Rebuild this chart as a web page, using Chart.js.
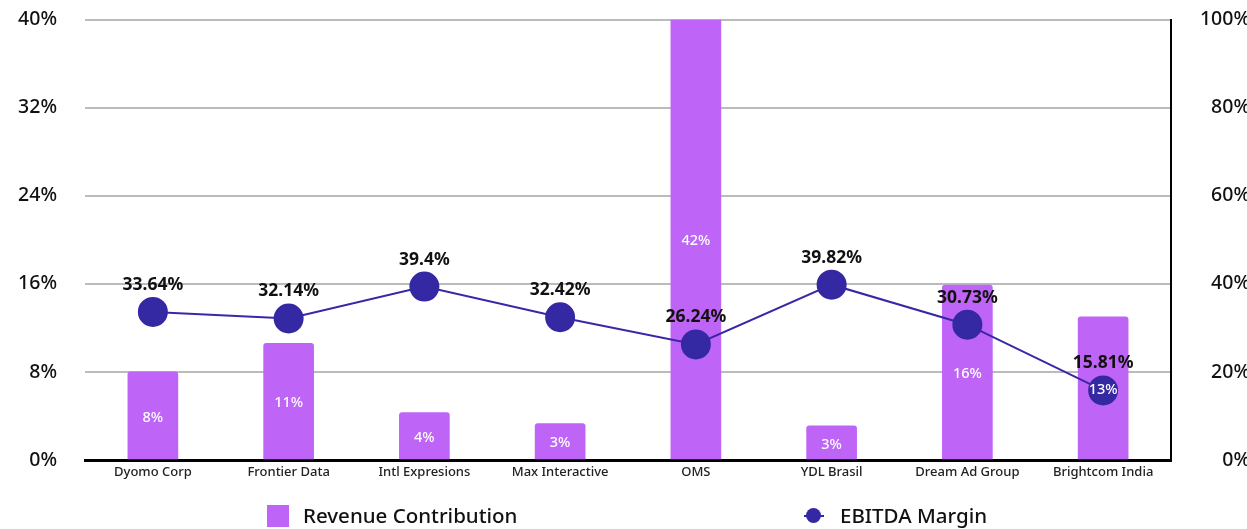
<!DOCTYPE html>
<html>
<head>
<meta charset="utf-8">
<script src="https://cdn.jsdelivr.net/npm/chart.js@4.4.1/dist/chart.umd.min.js"></script>
<style>
  html, body { margin: 0; padding: 0; background: #fff; overflow: hidden; }
  #wrap { position: relative; width: 1247px; height: 529px; overflow: hidden; }
  canvas { position: absolute; left: 0; top: -20px; }
  .leg { position: absolute; font-family: "Noto Sans", sans-serif; font-size: 20.5px; font-weight: 500; color: #111; }
  .sq { position: absolute; left: 267px; top: 505px; width: 22px; height: 22px; background: #be64f6; }
  .ln { position: absolute; left: 804px; top: 515px; width: 20px; height: 2px; background: #3a27a6; }
  .dot { position: absolute; left: 806px; top: 508px; width: 15px; height: 15px; border-radius: 50%; background: #3528a3; }
</style>
</head>
<body>
<div id="wrap">
  <canvas id="chart" width="1250" height="549"></canvas>
  <div class="sq"></div>
  <div class="leg" style="left:303px; top:501px;">Revenue Contribution</div>
  <div class="ln"></div>
  <div class="dot"></div>
  <div class="leg" style="left:840px; top:501px;">EBITDA Margin</div>
</div>
<script>
const categories = ['Dyomo Corp', 'Frontier Data', 'Intl Expresions', 'Max Interactive', 'OMS', 'YDL Brasil', 'Dream Ad Group', 'Brightcom India'];
const revenueContribution = [8, 10.6, 4.3, 3.3, 42, 3.1, 15.9, 13];
const revenueLabels = ['8%', '11%', '4%', '3%', '42%', '3%', '16%', '13%'];
const ebitdaMargin = [33.64, 32.14, 39.4, 32.42, 26.24, 39.82, 30.73, 15.81];
const leftTicks = [0, 8, 16, 24, 32, 40];
const rightTicks = [0, 20, 40, 60, 80, 100];

const font = '"Noto Sans", sans-serif';

const labelPlugin = {
    id: 'valueLabels',
    afterDatasetsDraw(chart) {
        const ctx = chart.ctx;
        const area = chart.chartArea;
        ctx.save();
        // line labels above points
        const lineMeta = chart.getDatasetMeta(1);
        ctx.fillStyle = '#111';
        ctx.font = '700 17.5px ' + font;
        ctx.textAlign = 'center';
        ctx.textBaseline = 'middle';
        lineMeta.data.forEach((pt, i) => {
            ctx.fillText(ebitdaMargin[i] + '%', pt.x, pt.y - 27);
        });
        // bar labels in the middle of the visible bar
        const barMeta = chart.getDatasetMeta(0);
        ctx.fillStyle = '#fff';
        ctx.font = '500 14.5px ' + font;
        barMeta.data.forEach((bar, i) => {
            const top = Math.max(bar.y, area.top);
            ctx.fillText(revenueLabels[i], bar.x, (top + bar.base) / 2 + 2);
        });
        ctx.restore();
    }
};

new Chart(document.getElementById('chart'), {
    data: {
        labels: categories,
        datasets: [{
            type: 'bar',
            label: 'Revenue Contribution',
            data: revenueContribution,
            yAxisID: 'y',
            backgroundColor: '#be64f6',
            barThickness: 50,
            borderRadius: 3,
            borderSkipped: 'bottom',
            order: 2
        }, {
            type: 'line',
            label: 'EBITDA Margin',
            data: ebitdaMargin,
            yAxisID: 'y1',
            borderColor: '#3a27a6',
            backgroundColor: '#3528a3',
            borderWidth: 2,
            pointRadius: 14,
            pointHoverRadius: 14,
            pointBackgroundColor: '#3528a3',
            pointBorderColor: '#3528a3',
            order: 1
        }]
    },
    options: {
        responsive: false,
        devicePixelRatio: 1,
        animation: false,
        layout: { padding: { top: 0, bottom: 39, left: 0, right: 0 } },
        plugins: {
            legend: { display: false },
            tooltip: { enabled: false }
        },
        scales: {
            x: {
                grid: { display: false, drawTicks: false },
                border: { display: true, color: '#000', width: 3 },
                ticks: { color: '#222', font: { family: font, size: 13, weight: 500 }, padding: 4, maxRotation: 0 },
                afterFit(s) { s.height = 30; }
            },
            y: {
                position: 'left',
                min: 0,
                max: 40,
                afterBuildTicks(s) { s.ticks = leftTicks.map(v => ({ value: v })); },
                grid: { color: '#bbbbbb', lineWidth: 2, drawTicks: false },
                border: { display: false },
                ticks: { color: '#111', font: { family: font, size: 19.5, weight: 500 }, padding: 28, callback: v => v + '%' },
                afterFit(s) { s.width = 85; }
            },
            y1: {
                position: 'right',
                min: 0,
                max: 100,
                afterBuildTicks(s) { s.ticks = rightTicks.map(v => ({ value: v })); },
                grid: { display: false, drawTicks: false },
                border: { display: true, color: '#000', width: 2 },
                ticks: { color: '#111', font: { family: font, size: 19.5, weight: 500 }, crossAlign: 'far', callback: v => v + '%' },
                afterFit(s) { s.width = 79; }
            }
        }
    },
    plugins: [labelPlugin]
});
</script>
</body>
</html>
